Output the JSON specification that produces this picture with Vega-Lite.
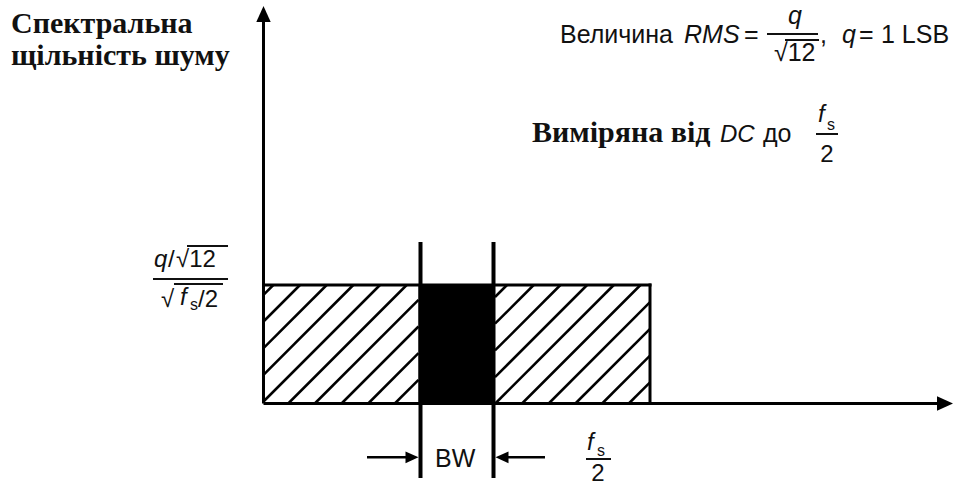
{
  "$schema": "https://vega.github.io/schema/vega-lite/v6.json",
  "description": "Quantization noise spectral density: flat level from DC to fs/2, with the in-band part (BW) shaded.",
  "width": 957,
  "height": 486,
  "autosize": "none",
  "padding": 0,
  "background": "white",
  "config": {"view": {"stroke": null}},
  "datasets": {
    "axes": [
      {"x": 0, "y": 0, "x2": 0, "y2": 3.2363},
      {"x": 0, "y": 0, "x2": 1.7503, "y2": 0}
    ],
    "outline": [
      {"x": 0, "y": 1, "x2": 1, "y2": 1},
      {"x": 1, "y": 0, "x2": 1, "y2": 1}
    ],
    "hatch": [
      {"x": 0, "y": 0.9173, "x2": 0.0254, "y2": 1},
      {"x": 0, "y": 0.692, "x2": 0.0944, "y2": 1},
      {"x": 0, "y": 0.4667, "x2": 0.1635, "y2": 1},
      {"x": 0, "y": 0.2422, "x2": 0.2323, "y2": 1},
      {"x": 0, "y": 0.0169, "x2": 0.3014, "y2": 1},
      {"x": 0.0639, "y": 0, "x2": 0.3705, "y2": 1},
      {"x": 0.1327, "y": 0, "x2": 0.401, "y2": 0.8751},
      {"x": 0.2018, "y": 0, "x2": 0.401, "y2": 0.6498},
      {"x": 0.2709, "y": 0, "x2": 0.401, "y2": 0.4245},
      {"x": 0.3397, "y": 0, "x2": 0.401, "y2": 0.2},
      {"x": 0.599, "y": 0.8987, "x2": 0.63, "y2": 1},
      {"x": 0.599, "y": 0.6734, "x2": 0.6991, "y2": 1},
      {"x": 0.599, "y": 0.4481, "x2": 0.7682, "y2": 1},
      {"x": 0.599, "y": 0.2228, "x2": 0.8373, "y2": 1},
      {"x": 0.5997, "y": 0, "x2": 0.9063, "y2": 1},
      {"x": 0.6688, "y": 0, "x2": 0.9754, "y2": 1},
      {"x": 0.7379, "y": 0, "x2": 1, "y2": 0.8549},
      {"x": 0.807, "y": 0, "x2": 1, "y2": 0.6295},
      {"x": 0.8761, "y": 0, "x2": 1, "y2": 0.4042},
      {"x": 0.9451, "y": 0, "x2": 1, "y2": 0.1789}
    ],
    "band": [
      {"x": 0.401, "y": 0, "x2": 0.599, "y2": 1}
    ],
    "bwLines": [
      {"x": 0.4062, "y": -0.6287, "x2": 0.4062, "y2": 1.3629},
      {"x": 0.5951, "y": -0.6287, "x2": 0.5951, "y2": 1.3629}
    ],
    "bwArrows": [
      {"x": 0.2678, "y": -0.454, "x2": 0.3739, "y2": -0.454},
      {"x": 0.6274, "y": -0.454, "x2": 0.7283, "y2": -0.454}
    ],
    "bars": [
      {"x": 1.3027, "y": 3.1181, "x2": 1.4347, "y2": 3.1181},
      {"x": 1.3493, "y": 3.0675, "x2": 1.4373, "y2": 3.0675},
      {"x": 1.4295, "y": 2.2743, "x2": 1.4864, "y2": 2.2743},
      {"x": -0.2859, "y": 1.0506, "x2": -0.0918, "y2": 1.0506},
      {"x": -0.1979, "y": 1.3291, "x2": -0.0918, "y2": 1.3291},
      {"x": -0.2316, "y": 1.0084, "x2": -0.1048, "y2": 1.0084},
      {"x": 0.8344, "y": -0.4684, "x2": 0.8991, "y2": -0.4684}
    ],
    "bigHeads": [
      {"x": 0, "y": 3.2869, "dir": "up"},
      {"x": 1.7633, "y": 0, "dir": "right"}
    ],
    "smallHeads": [
      {"x": 0.3842, "y": -0.454, "dir": "right"},
      {"x": 0.6171, "y": -0.454, "dir": "left"}
    ],
    "serifText": [
      {"x": -0.6533, "y": 3.1266, "label": "Спектральна"},
      {"x": -0.6533, "y": 2.8565, "label": "щільність шуму"},
      {"x": 0.6947, "y": 2.2068, "label": "Виміряна від"}
    ],
    "sansLarge": [
      {"x": 0.7671, "y": 3.0422, "label": "Величина"},
      {"x": 1.2432, "y": 3.0422, "label": "="},
      {"x": 1.3208, "y": 2.8903, "label": "√12"},
      {"x": 1.4398, "y": 3.0422, "label": ","},
      {"x": 1.5408, "y": 3.0422, "label": "="},
      {"x": 1.5977, "y": 3.0422, "label": "1 LSB"},
      {"x": 1.2924, "y": 2.2068, "label": "до"},
      {"x": 0.4437, "y": -0.5359, "label": "BW"}
    ],
    "sansText": [
      {"x": 1.4406, "y": 2.038, "label": "2"},
      {"x": -0.2471, "y": 1.1519, "label": "/"},
      {"x": -0.2264, "y": 1.1519, "label": "√12"},
      {"x": -0.2652, "y": 0.8143, "label": "√"},
      {"x": -0.1695, "y": 0.8143, "label": "/2"},
      {"x": 0.8481, "y": -0.654, "label": "2"}
    ],
    "italicLarge": [
      {"x": 1.0880, "y": 3.0422, "label": "RMS"},
      {"x": 1.3571, "y": 3.2025, "label": "q"},
      {"x": 1.4968, "y": 3.0422, "label": "q"}
    ],
    "italicText": [
      {"x": 1.1811, "y": 2.2068, "label": "DC"},
      {"x": 1.4347, "y": 2.3755, "label": "f"},
      {"x": -0.2833, "y": 1.1519, "label": "q"},
      {"x": -0.216, "y": 0.8312, "label": "f"},
      {"x": 0.837, "y": -0.3924, "label": "f"}
    ],
    "subText": [
      {"x": 1.458, "y": 2.308, "label": "s"},
      {"x": -0.1902, "y": 0.789, "label": "s"},
      {"x": 0.8629, "y": -0.443, "label": "s"}
    ]
  },
  "encoding": {
    "x": {"field": "x", "type": "quantitative", "scale": {"domain": [-0.681759, 1.794308], "nice": false, "zero": false}, "axis": null},
    "y": {"field": "y", "type": "quantitative", "scale": {"domain": [-0.696203, 3.405063], "nice": false, "zero": false}, "axis": null}
  },
  "layer": [
    {
      "data": {"name": "hatch"},
      "mark": {"type": "rule", "color": "#000", "strokeWidth": 2.5},
      "encoding": {"x2": {"field": "x2"}, "y2": {"field": "y2"}}
    },
    {
      "data": {"name": "band"},
      "mark": {"type": "rect", "color": "#000"},
      "encoding": {"x2": {"field": "x2"}, "y2": {"field": "y2"}}
    },
    {
      "data": {"name": "outline"},
      "mark": {"type": "rule", "color": "#000", "strokeWidth": 3, "strokeCap": "square"},
      "encoding": {"x2": {"field": "x2"}, "y2": {"field": "y2"}}
    },
    {
      "data": {"name": "axes"},
      "mark": {"type": "rule", "color": "#000", "strokeWidth": 3},
      "encoding": {"x2": {"field": "x2"}, "y2": {"field": "y2"}}
    },
    {
      "data": {"name": "bwLines"},
      "mark": {"type": "rule", "color": "#000", "strokeWidth": 4},
      "encoding": {"x2": {"field": "x2"}, "y2": {"field": "y2"}}
    },
    {
      "data": {"name": "bwArrows"},
      "mark": {"type": "rule", "color": "#000", "strokeWidth": 2.5},
      "encoding": {"x2": {"field": "x2"}, "y2": {"field": "y2"}}
    },
    {
      "data": {"name": "bars"},
      "mark": {"type": "rule", "color": "#111", "strokeWidth": 2},
      "encoding": {"x2": {"field": "x2"}, "y2": {"field": "y2"}}
    },
    {
      "data": {"name": "bigHeads"},
      "mark": {"type": "point", "filled": true, "color": "#000", "opacity": 1, "size": 256, "strokeWidth": 0},
      "encoding": {
        "shape": {"field": "dir", "type": "nominal", "legend": null,
          "scale": {"domain": ["up", "right", "left"], "range": ["M0,-1L-0.9,1L0.9,1Z", "M1,0L-1,-0.9L-1,0.9Z", "M-1,0L1,-0.9L1,0.9Z"]}}
      }
    },
    {
      "data": {"name": "smallHeads"},
      "mark": {"type": "point", "filled": true, "color": "#000", "opacity": 1, "size": 169, "strokeWidth": 0},
      "encoding": {
        "shape": {"field": "dir", "type": "nominal", "legend": null,
          "scale": {"domain": ["up", "right", "left"], "range": ["M0,-1L-0.85,1L0.85,1Z", "M1,0L-1,-0.85L-1,0.85Z", "M-1,0L1,-0.85L1,0.85Z"]}}
      }
    },
    {
      "data": {"name": "serifText"},
      "mark": {"type": "text", "align": "left", "baseline": "alphabetic", "font": "Liberation Serif", "fontWeight": "bold", "fontSize": 30, "color": "#111"},
      "encoding": {"text": {"field": "label"}}
    },
    {
      "data": {"name": "sansLarge"},
      "mark": {"type": "text", "align": "left", "baseline": "alphabetic", "font": "Liberation Sans", "fontSize": 25, "color": "#111"},
      "encoding": {"text": {"field": "label"}}
    },
    {
      "data": {"name": "sansText"},
      "mark": {"type": "text", "align": "left", "baseline": "alphabetic", "font": "Liberation Sans", "fontSize": 24, "color": "#111"},
      "encoding": {"text": {"field": "label"}}
    },
    {
      "data": {"name": "italicLarge"},
      "mark": {"type": "text", "align": "left", "baseline": "alphabetic", "font": "Liberation Sans", "fontStyle": "italic", "fontSize": 25, "color": "#111"},
      "encoding": {"text": {"field": "label"}}
    },
    {
      "data": {"name": "italicText"},
      "mark": {"type": "text", "align": "left", "baseline": "alphabetic", "font": "Liberation Sans", "fontStyle": "italic", "fontSize": 24, "color": "#111"},
      "encoding": {"text": {"field": "label"}}
    },
    {
      "data": {"name": "subText"},
      "mark": {"type": "text", "align": "left", "baseline": "alphabetic", "font": "Liberation Sans", "fontSize": 16, "color": "#111"},
      "encoding": {"text": {"field": "label"}}
    }
  ]
}
